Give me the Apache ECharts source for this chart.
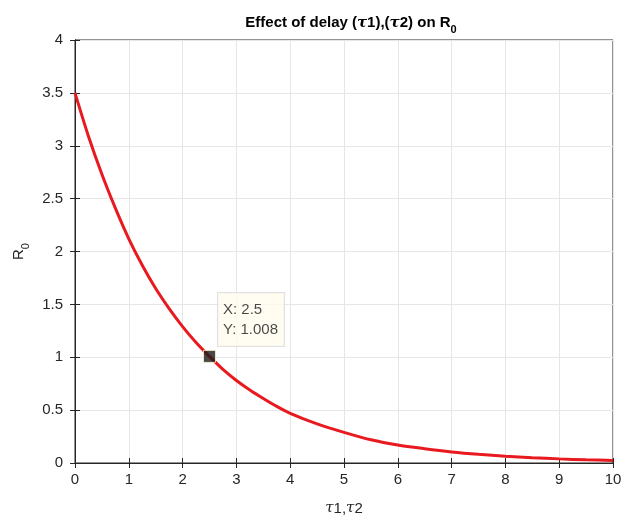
<!DOCTYPE html>
<html>
<head>
<meta charset="utf-8">
<script src="https://cdn.jsdelivr.net/npm/echarts@6/dist/echarts.min.js"></script>
<style>
html, body { margin: 0; padding: 0; background: #fff; }
#main { width: 623px; height: 517px; }
</style>
</head>
<body>
<div id="main"></div>
<script>
// values
var tauValues = [0, 0.25, 0.5, 0.75, 1, 1.25, 1.5, 1.75, 2, 2.25, 2.5, 2.75, 3, 3.25, 3.5, 3.75, 4, 4.5, 5, 5.5, 6, 6.5, 7, 7.5, 8, 8.5, 9, 9.5, 10];
var r0Values = [3.5, 3.09, 2.73, 2.41, 2.12, 1.87, 1.65, 1.46, 1.29, 1.14, 1.008, 0.885, 0.78, 0.69, 0.61, 0.535, 0.47, 0.37, 0.29, 0.22, 0.17, 0.135, 0.105, 0.082, 0.064, 0.05, 0.039, 0.03, 0.024];
var tipPoint = [2.5, 1.008];

var font = '"Liberation Sans", Arial, sans-serif';
var axisColor = '#262626';

var curve = tauValues.map(function (t, i) { return [t, r0Values[i]]; });

var myChart = echarts.init(document.getElementById('main'));
var option = {
    animation: false,
    title: {
        text: '{b|Effect of delay (}{t|τ}{b|1),(}{t|τ}{b|2) on R}{s|0}',
        left: 346,
        textAlign: 'center',
        top: 6,
        textStyle: {
            rich: {
                b: { fontFamily: font, fontWeight: 'bold', fontSize: 15, color: '#000' },
                t: { fontFamily: 'DejaVu Serif', fontStyle: 'italic', fontSize: 15, color: '#000' },
                s: { fontFamily: font, fontWeight: 'bold', fontSize: 11, color: '#000', padding: [13, 0, 0, 0] }
            }
        }
    },
    grid: {
        left: 75, right: 10, top: 40, bottom: 54,
        outerBoundsMode: 'none', containLabel: false,
        show: true, borderColor: axisColor, borderWidth: 1
    },
    xAxis: [{
        type: 'value', min: 0, max: 10, interval: 1,
        name: '{t|τ}{n|1,}{t|τ}{n|2}',
        nameLocation: 'middle', nameGap: 38,
        nameTextStyle: {
            rich: {
                t: { fontFamily: 'DejaVu Serif', fontStyle: 'italic', fontSize: 15, color: axisColor },
                n: { fontFamily: font, fontSize: 15, color: axisColor }
            }
        },
        axisLine: { lineStyle: { color: axisColor, width: 1 } },
        axisTick: { inside: true, length: 5, lineStyle: { color: axisColor } },
        axisLabel: { color: axisColor, fontFamily: font, fontSize: 15, margin: 9 },
        splitLine: { show: true, lineStyle: { color: '#e6e6e6' } }
    }, {
        type: 'value', min: 0, max: 10, interval: 1, position: 'top',
        axisLine: { show: true, lineStyle: { color: axisColor } },
        axisTick: { show: true, inside: true, length: 5, lineStyle: { color: axisColor } },
        axisLabel: { show: false },
        splitLine: { show: false }
    }],
    yAxis: [{
        type: 'value', min: 0, max: 4, interval: 0.5,
        name: '{n|R}{s|0}',
        nameLocation: 'middle', nameGap: 44,
        nameTextStyle: {
            rich: {
                n: { fontFamily: font, fontSize: 15, color: axisColor },
                s: { fontFamily: font, fontSize: 11, color: axisColor, padding: [13, 0, 0, 0] }
            }
        },
        axisLine: { show: true, lineStyle: { color: axisColor, width: 1 } },
        axisTick: { show: true, inside: true, length: 5, lineStyle: { color: axisColor } },
        axisLabel: { color: axisColor, fontFamily: font, fontSize: 15, margin: 12 },
        splitLine: { show: true, lineStyle: { color: '#e6e6e6' } }
    }, {
        type: 'value', min: 0, max: 4, interval: 0.5, position: 'right',
        axisLine: { show: true, lineStyle: { color: axisColor } },
        axisTick: { show: true, inside: true, length: 5, lineStyle: { color: axisColor } },
        axisLabel: { show: false },
        splitLine: { show: false }
    }],
    series: [{
        type: 'line',
        data: curve,
        smooth: 0.3,
        showSymbol: false,
        lineStyle: { color: '#e8191f', width: 3 },
        z: 3
    }, {
        type: 'scatter',
        data: [tipPoint],
        symbol: 'rect',
        symbolSize: 12,
        itemStyle: { color: '#1a1a1a', borderColor: '#fff6cc', borderWidth: 1 },
        label: {
            show: true,
            position: [15, -57],
            formatter: 'X: ' + tipPoint[0] + '\nY: ' + tipPoint[1],
            fontFamily: font,
            fontSize: 15,
            lineHeight: 20,
            color: '#1a1a1a',
            backgroundColor: '#fffcef',
            borderColor: '#d9d9d9',
            borderWidth: 1,
            padding: [7, 6, 6, 5]
        },
        z: 5
    }]
};
myChart.setOption(option);
</script>
</body>
</html>
